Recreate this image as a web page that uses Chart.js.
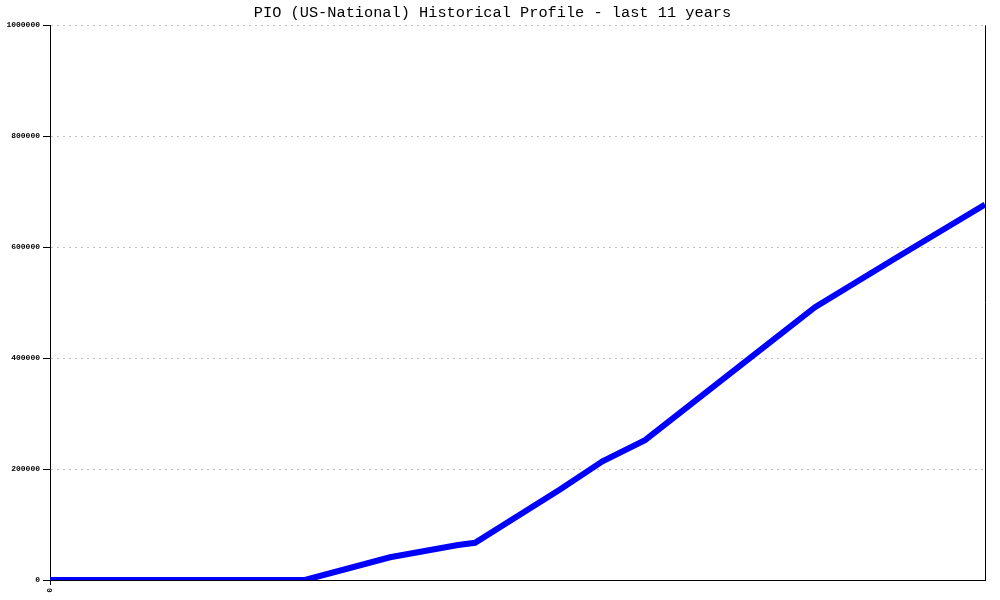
<!DOCTYPE html>
<html>
<head>
<meta charset="utf-8">
<script src="https://cdn.jsdelivr.net/npm/chart.js@4"></script>
<style>
html,body{margin:0;padding:0;background:#fff;}
#wrap{width:1000px;height:600px;}
</style>
</head>
<body>
<div id="wrap"><canvas id="chart" width="1000" height="600"></canvas></div>
<script>
// years since start of profile, and prefix count
const years=[0,1,2,3,4,4.8,5,6,6.5,7,8,9,10,11];
const counts=[0,0,0,0,41000,63000,67000,163000,214000,252000,372000,492000,585000,677000];
const yTicks=[0,200000,400000,600000,800000,1000000];
const xTicks=[0];

const chartTitle="PIO (US-National) Historical Profile - last 11 years";

// right side frame line
const rightLine={
id:"rightLine",
afterDraw(chart){
let a=chart.chartArea;
let ctx=chart.ctx;
ctx.save();
ctx.strokeStyle="#000";
ctx.lineWidth=1;
ctx.beginPath();
ctx.moveTo(a.right+0.5,a.top);
ctx.lineTo(a.right+0.5,a.bottom);
ctx.stroke();
ctx.restore();
}
};

new Chart(document.getElementById("chart"),{
type:"line",
data:{
datasets:[{
data:years.map((y,i)=>({x:y,y:counts[i]})),
borderColor:"#0000ff",
borderWidth:6,
pointRadius:0,
tension:0,
fill:false
}]
},
options:{
responsive:false,
animation:false,
layout:{padding:{left:0,right:15,top:0,bottom:0}},
plugins:{
legend:{display:false},
tooltip:{enabled:false},
title:{
display:true,
text:chartTitle,
color:"#000",
font:{family:"Liberation Mono",size:15.3,weight:"normal"},
padding:{top:4,bottom:3}
}
},
scales:{
x:{
type:"linear",
min:0,
max:11,
afterBuildTicks(s){s.ticks=xTicks.map(v=>({value:v}));},
afterFit(s){s.height=20;},
grid:{drawOnChartArea:false,color:"#000",tickLength:5},
border:{color:"#000",width:1},
ticks:{
color:"#000",
font:{family:"Liberation Mono",size:8,weight:"bold"},
minRotation:90,
maxRotation:90,
padding:3,
callback:v=>String(v)
}
},
y:{
min:0,
max:1000000,
afterBuildTicks(s){s.ticks=yTicks.map(v=>({value:v}));},
afterFit(s){s.width=50;},
grid:{color:"#c0c0c0",tickColor:"#000",tickLength:7,tickBorderDash:[]},
border:{color:"#000",width:1,dash:[2,4]},
ticks:{
color:"#000",
font:{family:"Liberation Mono",size:8,weight:"bold"},
padding:3,
callback:v=>String(v)
}
}
}
},
plugins:[rightLine]
});
</script>
</body>
</html>
